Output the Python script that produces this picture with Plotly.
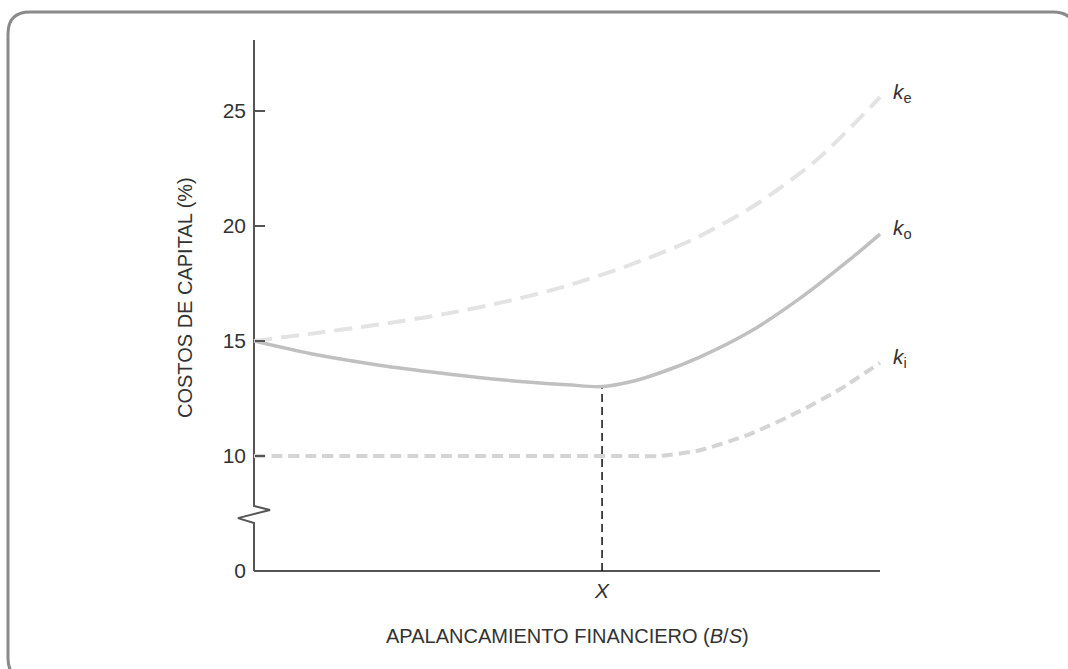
import plotly.graph_objects as go

# --- data (x = B/S as a fraction of the axis length) ---
x_ke = [0.0, 0.1, 0.2, 0.3, 0.4, 0.5, 0.6, 0.7, 0.8, 0.9, 1.0]
ke = [15.0, 15.35, 15.72, 16.15, 16.7, 17.4, 18.3, 19.4, 20.9, 22.9, 25.6]

x_ko = [0.0, 0.1, 0.2, 0.3, 0.4, 0.5, 0.556, 0.605, 0.649, 0.712, 0.792, 0.872, 0.952, 1.0]
ko = [15.0, 14.4, 13.95, 13.6, 13.3, 13.1, 13.02, 13.25, 13.62, 14.3, 15.4, 16.85, 18.55, 19.65]

x_ki = [0.0, 0.3, 0.6, 0.649, 0.712, 0.792, 0.872, 0.936, 1.0]
ki = [10.0, 10.0, 10.0, 10.0, 10.25, 10.95, 11.95, 12.9, 14.05]

x_opt = 0.556            # the "X" point (minimum of k_o)
y_tickvals = [5, 10, 15, 20, 25]   # 5 stands in for 0 below the axis break
y_ticktext = ["0", "10", "15", "20", "25"]
labels = [("e", ke), ("o", ko), ("i", ki)]

FONT = "Liberation Sans, Arial, sans-serif"
TXT = "#333333"
AX = "#555555"

# plot area in pixels
W, H = 1068, 669
L, R, T, B = 220, 108, 40, 89
PW, PH = W - L - R, H - T - B
X0PX, PXPU = 254, 626.0       # x=0 at px 254, 626 px per unit
Y5PX, PYPU = 571, 23.0        # y=5 at px 571, 23 px per unit

xr = [(L - X0PX) / PXPU, (W - R - X0PX) / PXPU]
yr = [5 - (T + PH - Y5PX) / PYPU, 5 + (Y5PX - T) / PYPU]


def px_x(px):
    return (px - L) / PW


def px_y(py):
    return (T + PH - py) / PH


fig = go.Figure()

# axes with break on the y axis
fig.add_trace(go.Scatter(
    x=[0, 0, 0.0256, -0.0256, 0, 0], y=[yr[1], 7.83, 7.65, 7.30, 7.09, 5],
    mode="lines", line=dict(color=AX, width=2), hoverinfo="skip",
))
fig.add_trace(go.Scatter(
    x=[0, 1.0], y=[5, 5], mode="lines",
    line=dict(color=AX, width=2), hoverinfo="skip",
))

# vertical line at the optimum
fig.add_trace(go.Scatter(
    x=[x_opt, x_opt], y=[5, ko[x_ko.index(x_opt)]], mode="lines",
    line=dict(color="#111111", width=1.5, dash="8px,5px"), hoverinfo="skip",
))

fig.add_trace(go.Scatter(
    x=x_ke, y=ke, mode="lines", name="ke",
    line=dict(color="#e3e3e3", width=4, dash="18px,9px", shape="spline", smoothing=0.8),
))
fig.add_trace(go.Scatter(
    x=x_ki, y=ki, mode="lines", name="ki",
    line=dict(color="#d4d4d4", width=4, dash="11px,6px", shape="spline", smoothing=0.6),
))
fig.add_trace(go.Scatter(
    x=x_ko, y=ko, mode="lines", name="ko",
    line=dict(color="#c0c0c0", width=3.5, shape="spline", smoothing=1.0),
))

for sub, vals in labels:
    fig.add_annotation(
        x=1.017, y=vals[-1] + 0.2, xref="x", yref="y",
        text=f"<i>k</i><sub>{sub}</sub>", showarrow=False,
        xanchor="left", yanchor="middle",
        font=dict(family=FONT, size=21, color=TXT),
    )

fig.add_annotation(
    x=px_x(185), y=px_y(298), xref="paper", yref="paper",
    xanchor="center", yanchor="middle",
    text="COSTOS DE CAPITAL (%)", textangle=-90, showarrow=False,
    font=dict(family=FONT, size=20, color=TXT),
)
fig.add_annotation(
    x=px_x(567), y=px_y(636), xref="paper", yref="paper",
    xanchor="center", yanchor="middle",
    text="APALANCAMIENTO FINANCIERO (<i>B</i>/<i>S</i>)", showarrow=False,
    font=dict(family=FONT, size=20, color=TXT),
)

# rounded frame
fx0, fx1, fy0, fy1, r = 8, 1075, 12, 680, 22
rx, ry = r / PW, r / PH
a, b_, c, d = px_x(fx0), px_x(fx1), px_y(fy1), px_y(fy0)
path = (f"M {a + rx},{d} L {b_ - rx},{d} Q {b_},{d} {b_},{d - ry} "
        f"L {b_},{c + ry} Q {b_},{c} {b_ - rx},{c} L {a + rx},{c} "
        f"Q {a},{c} {a},{c + ry} L {a},{d - ry} Q {a},{d} {a + rx},{d} Z")
fig.add_shape(type="path", path=path, xref="paper", yref="paper",
              line=dict(color="#8a8a8a", width=3), layer="above")

fig.update_layout(
    width=W, height=H, showlegend=False,
    margin=dict(l=L, r=R, t=T, b=B),
    paper_bgcolor="white", plot_bgcolor="white",
    font=dict(family=FONT, size=20, color=TXT),
    xaxis=dict(
        range=xr, showgrid=False, zeroline=False, showline=False,
        tickvals=[x_opt], ticktext=["<i>X</i>"], ticks="",
        anchor="free", position=px_y(Y5PX), ticklabelstandoff=5,
        tickfont=dict(family=FONT, size=21, color=TXT),
    ),
    yaxis=dict(
        range=yr, showgrid=False, zeroline=False, showline=False,
        tickvals=y_tickvals, ticktext=y_ticktext,
        ticks="inside", ticklen=10, tickwidth=2, tickcolor=AX,
        anchor="free", position=px_x(X0PX), ticklabelstandoff=8,
        tickfont=dict(family=FONT, size=21, color=TXT),
    ),
)

fig.write_html("out.html", config={"displayModeBar": False},
               post_script="document.body.style.margin='0';")
